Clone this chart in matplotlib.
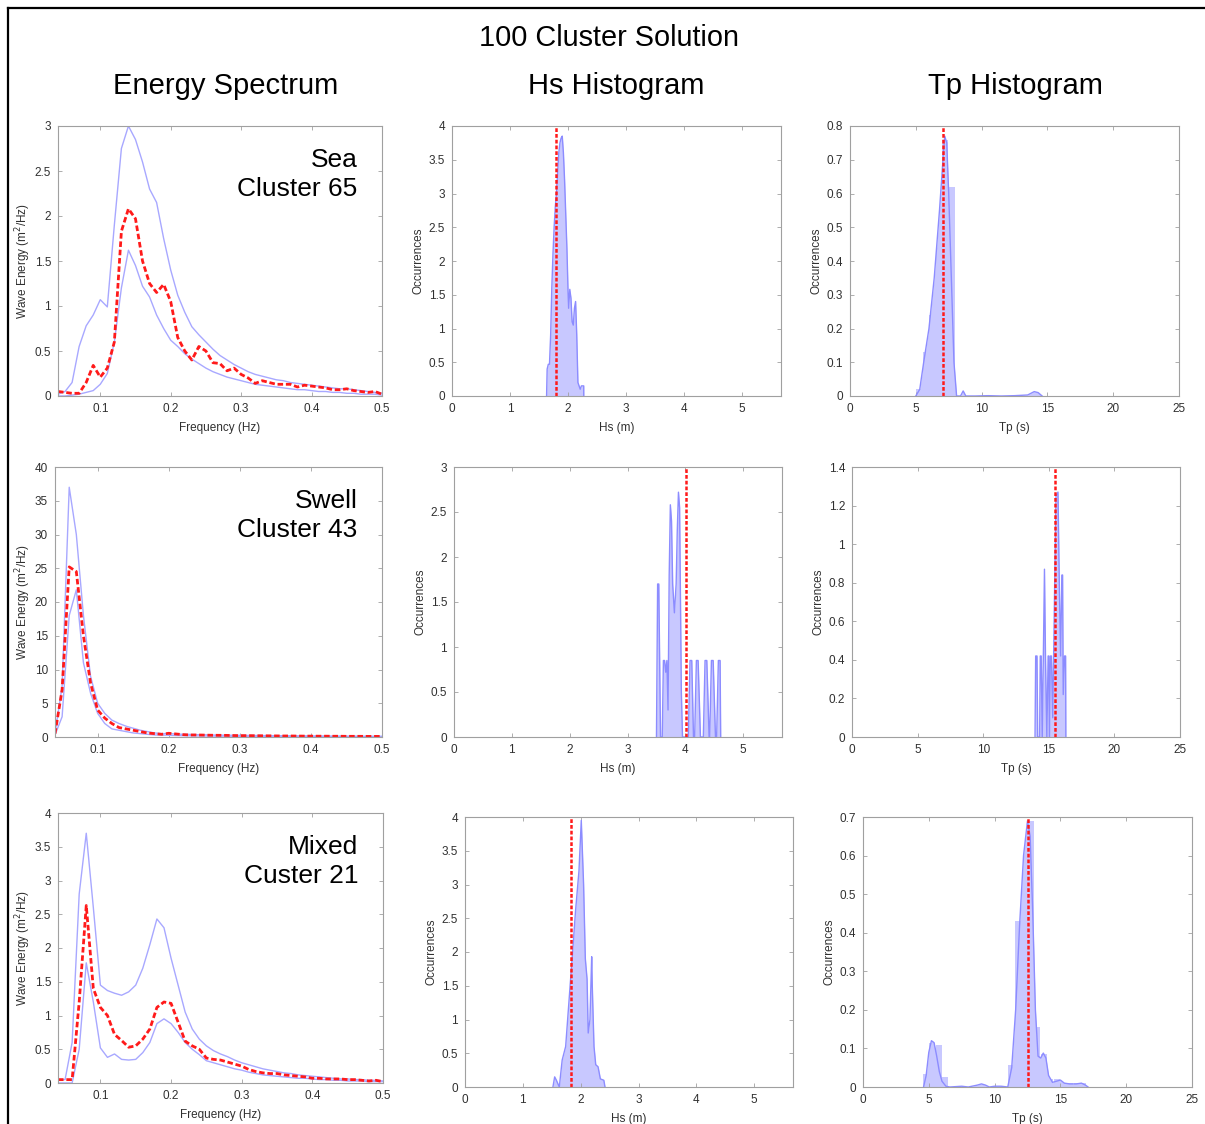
import numpy as np
import matplotlib
matplotlib.use('Agg')
import matplotlib.pyplot as plt
from matplotlib.lines import Line2D

plt.rcParams['font.family'] = ['Liberation Sans', 'DejaVu Sans']

W, H = 1205, 1124

# ---- energy spectra (0.04 .. 0.50 Hz, 0.01 Hz steps) ----
freq = [round(0.04 + 0.01 * i, 2) for i in range(47)]

sea_mean = [0.05, 0.04, 0.03, 0.03, 0.15, 0.34, 0.21, 0.31, 0.60, 1.83, 2.08, 1.97, 1.50, 1.25, 1.15, 1.24,
            1.05, 0.65, 0.50, 0.40, 0.55, 0.50, 0.37, 0.36, 0.28, 0.31, 0.24, 0.20, 0.14, 0.17, 0.15, 0.13,
            0.13, 0.13, 0.10, 0.12, 0.11, 0.10, 0.09, 0.07, 0.07, 0.08, 0.06, 0.05, 0.04, 0.05, 0.02]
sea_upper = [0.02, 0.05, 0.15, 0.55, 0.78, 0.90, 1.07, 0.99, 1.90, 2.75, 3.00, 2.85, 2.60, 2.30, 2.15, 1.75,
             1.40, 1.12, 0.93, 0.77, 0.68, 0.60, 0.52, 0.45, 0.40, 0.35, 0.31, 0.27, 0.24, 0.22, 0.20, 0.18,
             0.17, 0.15, 0.14, 0.13, 0.12, 0.11, 0.10, 0.09, 0.08, 0.08, 0.07, 0.06, 0.05, 0.04, 0.03]
sea_lower = [0.00, 0.00, 0.01, 0.02, 0.04, 0.06, 0.13, 0.25, 0.60, 1.20, 1.62, 1.45, 1.22, 1.10, 0.90, 0.75,
             0.62, 0.55, 0.47, 0.41, 0.36, 0.31, 0.27, 0.24, 0.21, 0.19, 0.17, 0.15, 0.13, 0.12, 0.11, 0.10,
             0.09, 0.08, 0.07, 0.07, 0.06, 0.05, 0.05, 0.04, 0.04, 0.03, 0.03, 0.02, 0.02, 0.02, 0.01]

swell_mean = [0.5, 7.0, 25.2, 24.5, 15.0, 8.0, 4.0, 2.8, 2.0, 1.4, 1.2, 1.0, 0.8, 0.6, 0.5, 0.4,
              0.55, 0.45, 0.35, 0.3, 0.3, 0.28, 0.26, 0.25, 0.24, 0.22, 0.2, 0.2, 0.19, 0.18, 0.17, 0.16,
              0.15, 0.15, 0.14, 0.13, 0.13, 0.12, 0.12, 0.11, 0.11, 0.1, 0.1, 0.1, 0.09, 0.09, 0.08]
swell_upper = [0.5, 7.5, 37.0, 30.0, 18.0, 9.0, 5.0, 3.5, 2.5, 2.0, 1.6, 1.3, 1.0, 0.8, 0.6, 0.5,
               0.5, 0.45, 0.4, 0.38, 0.35, 0.33, 0.3, 0.28, 0.27, 0.26, 0.25, 0.24, 0.23, 0.22, 0.21, 0.2,
               0.19, 0.18, 0.17, 0.17, 0.16, 0.15, 0.15, 0.14, 0.14, 0.13, 0.13, 0.12, 0.12, 0.11, 0.11]
swell_lower = [0.3, 3.0, 18.0, 21.8, 11.0, 6.5, 3.5, 2.0, 1.2, 1.0, 0.8, 0.6, 0.5, 0.4, 0.3, 0.3,
               0.25, 0.22, 0.2, 0.18, 0.16, 0.15, 0.14, 0.13, 0.12, 0.11, 0.1, 0.1, 0.09, 0.09, 0.08, 0.08,
               0.07, 0.07, 0.07, 0.06, 0.06, 0.06, 0.05, 0.05, 0.05, 0.05, 0.04, 0.04, 0.04, 0.04, 0.04]

mixed_mean = [0.05, 0.05, 0.05, 1.20, 2.63, 1.40, 1.12, 1.00, 0.72, 0.63, 0.53, 0.55, 0.65, 0.80, 1.12, 1.20,
              1.18, 0.90, 0.62, 0.55, 0.50, 0.37, 0.35, 0.34, 0.31, 0.28, 0.25, 0.20, 0.17, 0.15, 0.14, 0.14,
              0.12, 0.11, 0.10, 0.09, 0.07, 0.07, 0.06, 0.06, 0.06, 0.05, 0.05, 0.04, 0.03, 0.04, 0.02]
mixed_upper = [0.05, 0.05, 0.60, 2.80, 3.70, 2.60, 1.45, 1.37, 1.33, 1.30, 1.35, 1.45, 1.70, 2.05, 2.43, 2.30,
               1.85, 1.45, 1.05, 0.80, 0.65, 0.55, 0.48, 0.43, 0.39, 0.34, 0.30, 0.27, 0.24, 0.21, 0.19, 0.17,
               0.15, 0.14, 0.12, 0.11, 0.10, 0.09, 0.08, 0.07, 0.06, 0.06, 0.05, 0.05, 0.04, 0.04, 0.03]
mixed_lower = [0.00, 0.00, 0.00, 0.50, 1.78, 1.20, 0.52, 0.38, 0.43, 0.35, 0.34, 0.35, 0.45, 0.60, 0.88, 0.95,
               0.88, 0.75, 0.60, 0.50, 0.42, 0.33, 0.30, 0.27, 0.24, 0.21, 0.19, 0.16, 0.14, 0.12, 0.11, 0.10,
               0.09, 0.08, 0.07, 0.07, 0.06, 0.05, 0.05, 0.04, 0.04, 0.03, 0.03, 0.03, 0.02, 0.02, 0.02]

# ---- Hs histograms (smoothed curves) ----
hs_sea_x = [1.63, 1.64, 1.66, 1.68, 1.70, 1.72, 1.74, 1.76, 1.78, 1.80, 1.82, 1.84, 1.86, 1.88, 1.90, 1.92,
            1.94, 1.96, 1.98, 2.00, 2.01, 2.03, 2.05, 2.07, 2.09, 2.11, 2.13, 2.15, 2.17, 2.19, 2.21, 2.23,
            2.25, 2.27, 2.271]
hs_sea_y = [0.0, 0.4, 0.47, 0.47, 0.9, 1.6, 2.1, 2.5, 2.8, 3.0, 3.3, 3.6, 3.75, 3.82, 3.85, 3.6,
            3.2, 2.7, 2.2, 1.55, 1.3, 1.58, 1.45, 1.1, 1.05, 1.3, 1.4, 0.9, 0.2, 0.15, 0.1, 0.15,
            0.15, 0.15, 0.0]
hs_sea_mean = 1.79

hs_swell_x = [3.50, 3.52, 3.54, 3.57, 3.60, 3.62, 3.64, 3.66, 3.68, 3.70, 3.72, 3.74, 3.76, 3.78, 3.81, 3.84,
              3.86, 3.88, 3.90, 3.93, 3.95, 4.05, 4.08, 4.11, 4.14, 4.16, 4.19, 4.22, 4.26, 4.31, 4.34,
              4.37, 4.41, 4.42, 4.45, 4.48, 4.52, 4.54, 4.57, 4.60, 4.61]
hs_swell_y = [0.0, 1.7, 1.7, 0.0, 0.0, 0.85, 0.85, 0.72, 0.85, 0.3, 1.8, 2.58, 2.4, 1.7, 1.38, 1.7,
              2.3, 2.72, 2.55, 0.5, 0.0, 0.0, 0.85, 0.85, 0.0, 0.0, 0.85, 0.85, 0.0, 0.0, 0.85,
              0.85, 0.0, 0.0, 0.85, 0.85, 0.0, 0.0, 0.85, 0.85, 0.0]
hs_swell_mean = 4.01

hs_mixed_x = [1.52, 1.55, 1.58, 1.63, 1.68, 1.74, 1.80, 1.86, 1.91, 1.97, 2.01, 2.05, 2.08, 2.11, 2.13, 2.16,
              2.19, 2.20, 2.23, 2.26, 2.30, 2.34, 2.40, 2.42]
hs_mixed_y = [0.0, 0.15, 0.1, 0.0, 0.4, 0.6, 1.3, 2.0, 2.6, 3.2, 3.95, 3.0, 1.9, 1.6, 0.8, 1.0,
              1.93, 1.5, 0.6, 0.33, 0.3, 0.12, 0.1, 0.0]
hs_mixed_mean = 1.83

# ---- Tp histograms (bars + smoothed curves) ----
tp_sea_bins = [5.25, 5.75, 6.25, 6.75, 7.25, 7.75, 14.1]
tp_sea_counts = [0.02, 0.13, 0.24, 0.44, 0.76, 0.62, 0.01]
tp_sea_x = [5.0, 5.3, 5.6, 6.0, 6.4, 6.8, 7.1, 7.2, 7.35, 7.5, 7.7, 7.9, 8.1, 8.4, 8.6, 8.8,
            9.5, 10.5, 11.5, 12.5, 13.5, 14.0, 14.3, 14.6]
tp_sea_y = [0.0, 0.02, 0.1, 0.2, 0.35, 0.55, 0.72, 0.77, 0.75, 0.6, 0.35, 0.1, 0.0, 0.0, 0.015, 0.0,
            0.0, 0.001, 0.0, 0.001, 0.003, 0.013, 0.01, 0.0]
tp_sea_mean = 7.05

tp_swell_x = [13.95, 14.0, 14.1, 14.15, 14.3, 14.35, 14.42, 14.5, 14.6, 14.67, 14.75, 14.85, 14.95, 15.0,
              15.05, 15.12, 15.2, 15.3, 15.45, 15.55, 15.7, 15.8, 15.9, 16.0, 16.05, 16.1, 16.2, 16.28, 16.3]
tp_swell_y = [0.0, 0.42, 0.42, 0.0, 0.0, 0.42, 0.42, 0.0, 0.5, 0.87, 0.4, 0.0, 0.42, 0.42,
              0.0, 0.42, 0.42, 0.1, 0.8, 1.25, 1.27, 0.8, 0.42, 0.84, 0.84, 0.22, 0.42, 0.42, 0.0]
tp_swell_mean = 15.47

tp_mixed_bins = [4.75, 5.25, 5.75, 6.25, 11.25, 11.75, 12.25, 12.75, 13.25, 13.75, 14.25, 14.75,
                 15.25, 15.75, 16.25, 16.75]
tp_mixed_counts = [0.033, 0.115, 0.11, 0.025, 0.057, 0.43, 0.43, 0.69, 0.155, 0.085, 0.02, 0.02,
                   0.01, 0.01, 0.01, 0.01]
tp_mixed_x = [4.6, 4.8, 5.0, 5.2, 5.4, 5.6, 5.8, 6.0, 6.3, 6.6, 7.5, 8.0, 8.7, 9.0, 9.3, 9.6,
              10.0, 10.5, 11.0, 11.3, 11.6, 11.9, 12.2, 12.5, 12.7, 12.9, 13.1, 13.3, 13.5, 13.7, 13.9,
              14.1, 14.4, 14.7, 15.0, 15.3, 15.7, 16.2, 16.6, 16.9, 17.1]
tp_mixed_y = [0.0, 0.03, 0.09, 0.12, 0.115, 0.08, 0.04, 0.015, 0.002, 0.0, 0.002, 0.0, 0.005, 0.008, 0.005, 0.0,
              0.002, 0.002, 0.0, 0.05, 0.2, 0.42, 0.6, 0.69, 0.65, 0.45, 0.2, 0.08, 0.075, 0.088, 0.075,
              0.03, 0.012, 0.015, 0.018, 0.01, 0.008, 0.008, 0.01, 0.005, 0.0]
tp_mixed_mean = 12.51

row_labels = [['Sea', 'Cluster 65'], ['Swell', 'Cluster 43'], ['Mixed', 'Custer 21']]

# axes boxes in pixels: x0, y0, x1, y1
boxes = [
    [(58, 126, 382, 396), (452, 126, 781, 396), (850, 126, 1179, 396)],
    [(55, 467, 382, 737), (454, 467, 782, 737), (852, 467, 1180, 737)],
    [(58, 813, 383, 1083), (465, 817, 793, 1087), (863, 817, 1192, 1087)],
]

LINE_BLUE = '#a8a8ff'
FILL_BLUE = '#c8c8ff'
RED = '#ff1a1a'
SPINE = '#a0a0a0'
TICK = '#303030'


def make_ax(fig, box):
    x0, y0, x1, y1 = box
    ax = fig.add_axes([x0 / W, 1 - y1 / H, (x1 - x0) / W, (y1 - y0) / H])
    for s in ax.spines.values():
        s.set_color(SPINE)
        s.set_linewidth(0.8)
    ax.tick_params(direction='in', top=True, right=True, length=3, width=0.6, color=SPINE,
                   labelsize=8.5, labelcolor=TICK, pad=5)
    return ax


def spectrum(ax, mean, upper, lower, ylim, yticks, label):
    ax.plot(freq, upper, color=LINE_BLUE, lw=1.0)
    ax.plot(freq, lower, color=LINE_BLUE, lw=1.0)
    ax.plot(freq, mean, color=RED, lw=2.0, ls=(0, (2, 1)))
    ax.set_xlim(0.04, 0.5)
    ax.set_ylim(*ylim)
    ax.set_xticks([0.1, 0.2, 0.3, 0.4, 0.5])
    ax.set_xticklabels(['0.1', '0.2', '0.3', '0.4', '0.5'])
    ax.set_yticks(yticks)
    ax.set_yticklabels([('%g' % v) for v in yticks])
    ax.set_xlabel('Frequency (Hz)', fontsize=8.5, color=TICK, labelpad=5)
    ax.set_ylabel('Wave Energy (m$^2$/Hz)', fontsize=8.5, color=TICK, labelpad=1)
    ax.text(0.925, 0.92, label[0] + '\n' + label[1], transform=ax.transAxes, ha='right', va='top',
            fontsize=19, linespacing=1.3)


def hist_panel(ax, cx, cy, mean, xlim, xticks, ylim, yticks, xlabel, bins=None, counts=None, width=0.45):
    if bins is not None:
        ax.bar(bins, counts, width=width, color=FILL_BLUE, edgecolor='none')
    ax.fill_between(cx, cy, 0, color=FILL_BLUE, lw=0)
    ax.plot(cx, cy, color='#8c8cff', lw=1.0)
    ax.axvline(mean, color=RED, lw=1.8, ls=(0, (1.5, 0.8)))
    ax.set_xlim(*xlim)
    ax.set_ylim(*ylim)
    ax.set_xticks(xticks)
    ax.set_yticks(yticks)
    ax.set_yticklabels([('%g' % v) for v in yticks])
    ax.set_xlabel(xlabel, fontsize=8.5, color=TICK, labelpad=5)
    ax.set_ylabel('Occurrences', fontsize=8.5, color=TICK, labelpad=3)


fig = plt.figure(figsize=(W / 100, H / 100), dpi=100)

# frame lines on the left and top
fig.add_artist(Line2D([8 / W, 8 / W], [0, 1 - 8 / H], color='black', lw=1.6, transform=fig.transFigure))
fig.add_artist(Line2D([8 / W, 1], [1 - 8 / H, 1 - 8 / H], color='black', lw=1.6, transform=fig.transFigure))

fig.text(609 / W, 1 - 38 / H, '100 Cluster Solution', ha='center', va='center', fontsize=20.8)
fig.text(226 / W, 1 - 86 / H, 'Energy Spectrum', ha='center', va='center', fontsize=21)
fig.text(616 / W, 1 - 86 / H, 'Hs Histogram', ha='center', va='center', fontsize=21)
fig.text(1015 / W, 1 - 86 / H, 'Tp Histogram', ha='center', va='center', fontsize=21)

# row 1 - sea
ax = make_ax(fig, boxes[0][0])
spectrum(ax, sea_mean, sea_upper, sea_lower, (0, 3), [0, 0.5, 1, 1.5, 2, 2.5, 3], row_labels[0])
ax = make_ax(fig, boxes[0][1])
hist_panel(ax, hs_sea_x, hs_sea_y, hs_sea_mean, (0, 5.67), [0, 1, 2, 3, 4, 5], (0, 4),
           [0, 0.5, 1, 1.5, 2, 2.5, 3, 3.5, 4], 'Hs (m)')
ax = make_ax(fig, boxes[0][2])
hist_panel(ax, tp_sea_x, tp_sea_y, tp_sea_mean, (0, 25), [0, 5, 10, 15, 20, 25], (0, 0.8),
           [0, 0.1, 0.2, 0.3, 0.4, 0.5, 0.6, 0.7, 0.8], 'Tp (s)', tp_sea_bins, tp_sea_counts)

# row 2 - swell
ax = make_ax(fig, boxes[1][0])
spectrum(ax, swell_mean, swell_upper, swell_lower, (0, 40), [0, 5, 10, 15, 20, 25, 30, 35, 40], row_labels[1])
ax = make_ax(fig, boxes[1][1])
hist_panel(ax, hs_swell_x, hs_swell_y, hs_swell_mean, (0, 5.67), [0, 1, 2, 3, 4, 5], (0, 3),
           [0, 0.5, 1, 1.5, 2, 2.5, 3], 'Hs (m)')
ax = make_ax(fig, boxes[1][2])
hist_panel(ax, tp_swell_x, tp_swell_y, tp_swell_mean, (0, 25), [0, 5, 10, 15, 20, 25], (0, 1.4),
           [0, 0.2, 0.4, 0.6, 0.8, 1, 1.2, 1.4], 'Tp (s)')

# row 3 - mixed
ax = make_ax(fig, boxes[2][0])
spectrum(ax, mixed_mean, mixed_upper, mixed_lower, (0, 4), [0, 0.5, 1, 1.5, 2, 2.5, 3, 3.5, 4], row_labels[2])
ax = make_ax(fig, boxes[2][1])
hist_panel(ax, hs_mixed_x, hs_mixed_y, hs_mixed_mean, (0, 5.67), [0, 1, 2, 3, 4, 5], (0, 4),
           [0, 0.5, 1, 1.5, 2, 2.5, 3, 3.5, 4], 'Hs (m)')
ax = make_ax(fig, boxes[2][2])
hist_panel(ax, tp_mixed_x, tp_mixed_y, tp_mixed_mean, (0, 25), [0, 5, 10, 15, 20, 25], (0, 0.7),
           [0, 0.1, 0.2, 0.3, 0.4, 0.5, 0.6, 0.7], 'Tp (s)', tp_mixed_bins, tp_mixed_counts)

fig.savefig('out.png', dpi=100)
